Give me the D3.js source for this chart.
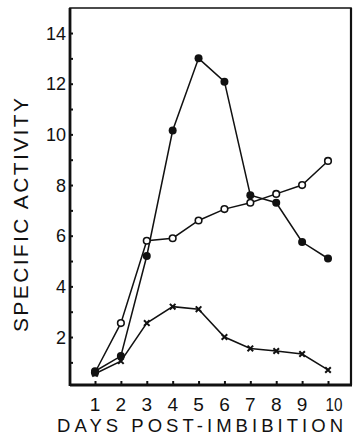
<!DOCTYPE html>
<html>
<head>
<meta charset="utf-8">
<script src="https://cdn.jsdelivr.net/npm/d3@7"></script>
<style>
  html, body { margin: 0; padding: 0; background: #fff; }
  svg { display: block; }
  text { font-family: "Liberation Sans", Arial, sans-serif; fill: #111; }
</style>
</head>
<body>
<svg id="chart" width="363" height="444"></svg>
<script>
// ---- data ----
const days = [1, 2, 3, 4, 5, 6, 7, 8, 9, 10];
const filledCircles = [0.65, 1.25, 5.2, 10.15, 13.0, 12.08, 7.6, 7.3, 5.75, 5.1];
const openCircles   = [0.6, 2.55, 5.8, 5.9, 6.6, 7.05, 7.3, 7.65, 8.0, 8.95];
const crosses       = [0.55, 1.05, 2.55, 3.2, 3.1, 2.0, 1.55, 1.45, 1.33, 0.7];
const yTicks = [2, 4, 6, 8, 10, 12, 14];
const yMinorTicks = [1, 3, 5, 7, 9, 11, 13];
const xTickLabels = ["1", "2", "3", "4", "5", "6", "7", "8", "9", "10"];
const xTitle = "DAYS POST-IMBIBITION";
const yTitle = "SPECIFIC ACTIVITY";

// ---- layout ----
const svg = d3.select("#chart");
const pLeft = 70, pRight = 351, pTop = 8, pBottom = 385;

const x = d3.scaleLinear().domain([1, 10]).range([95, 328]);
const y = d3.scaleLinear().domain([0, 15]).range([387.7, 7.7]);

// frame
svg.append("path")
  .attr("d", `M${pLeft},${pTop} L${pRight},${pTop} L${pRight},${pBottom} L${pLeft},${pBottom} Z`)
  .attr("fill", "none").attr("stroke", "#111").attr("stroke-width", 1.6);
svg.append("line").attr("x1", pLeft).attr("x2", pLeft).attr("y1", pTop).attr("y2", pBottom + 1)
  .attr("stroke", "#111").attr("stroke-width", 2.8);
svg.append("line").attr("x1", pLeft).attr("x2", pRight + 1).attr("y1", pBottom).attr("y2", pBottom)
  .attr("stroke", "#111").attr("stroke-width", 2.8);
svg.append("line").attr("x1", pRight).attr("x2", pRight).attr("y1", pTop).attr("y2", pBottom)
  .attr("stroke", "#111").attr("stroke-width", 2.2);

// y axis (ticks inward)
const yAxis = d3.axisRight(y).tickValues(yTicks.concat(yMinorTicks)).tickSize(3).tickFormat("");
const gy = svg.append("g").attr("transform", `translate(${pLeft},0)`).call(yAxis);
gy.select(".domain").remove();
gy.selectAll(".tick line").attr("stroke", "#111").attr("stroke-width", 2);

svg.append("g").selectAll("text").data(yTicks).join("text")
  .attr("x", 66).attr("y", d => y(d) + 6.5)
  .attr("text-anchor", "end")
  .attr("font-size", 18)
  .text(d => d);

// x axis (ticks inward)
const xAxis = d3.axisTop(x).tickValues(days).tickSize(4).tickFormat("");
const gx = svg.append("g").attr("transform", `translate(0,${pBottom})`).call(xAxis);
gx.select(".domain").remove();
gx.selectAll(".tick line").attr("stroke", "#111").attr("stroke-width", 2);

svg.append("g").selectAll("text").data(days).join("text")
  .attr("x", d => x(d) + (d === 10 ? 6 : 0)).attr("y", 410.5)
  .attr("text-anchor", "middle")
  .attr("font-size", 19)
  .attr("textLength", (d, i) => xTickLabels[i].length > 1 ? 17 : null)
  .attr("lengthAdjust", "spacingAndGlyphs")
  .text((d, i) => xTickLabels[i]);

// titles
svg.append("text")
  .attr("x", 57).attr("y", 431.5)
  .attr("font-size", 18.5)
  .attr("textLength", 286).attr("lengthAdjust", "spacing")
  .text(xTitle);

svg.append("text")
  .attr("transform", "translate(28,332) rotate(-90)")
  .attr("font-size", 21)
  .attr("textLength", 234).attr("lengthAdjust", "spacing")
  .text(yTitle);

// series
const line = d3.line().x((d, i) => x(days[i])).y(d => y(d));
function drawLine(vals) {
  svg.append("path").datum(vals).attr("d", line)
    .attr("fill", "none").attr("stroke", "#111").attr("stroke-width", 1.5);
}
drawLine(crosses);
drawLine(openCircles);
drawLine(filledCircles);

// crosses markers
svg.append("g").selectAll("path").data(crosses).join("path")
  .attr("d", d3.symbol().type(d3.symbolX).size(22))
  .attr("transform", (d, i) => `translate(${x(days[i])},${y(d)})`)
  .attr("fill", "none").attr("stroke", "#111").attr("stroke-width", 2);

// open circles
svg.append("g").selectAll("circle").data(openCircles).join("circle")
  .attr("cx", (d, i) => x(days[i])).attr("cy", d => y(d)).attr("r", 3.3)
  .attr("fill", "#fff").attr("stroke", "#111").attr("stroke-width", 1.6);

// filled circles
svg.append("g").selectAll("circle").data(filledCircles).join("circle")
  .attr("cx", (d, i) => x(days[i])).attr("cy", d => y(d)).attr("r", 4)
  .attr("fill", "#111");
</script>
</body>
</html>
